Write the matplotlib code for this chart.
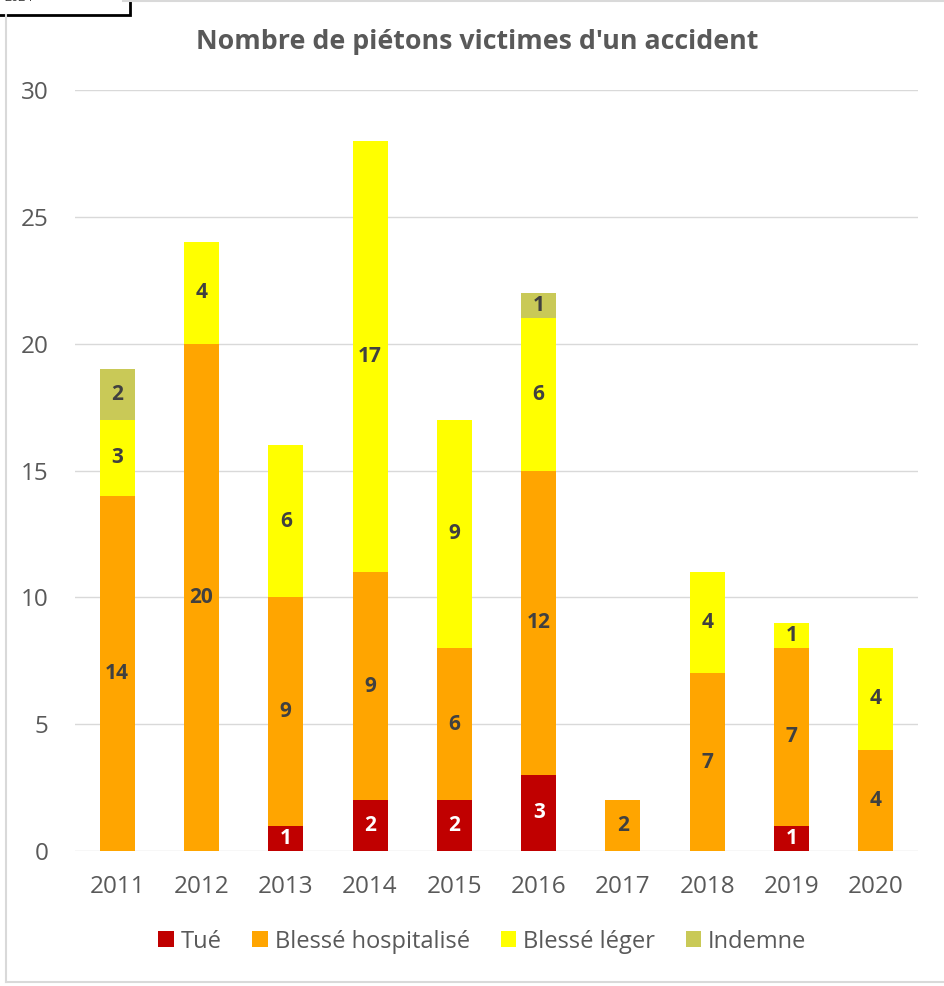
import numpy as np
import matplotlib
matplotlib.use('Agg')
from matplotlib import pyplot as plt
from matplotlib.patches import Rectangle
from matplotlib.lines import Line2D

plt.rcParams['font.family'] = ['Open Sans', 'DejaVu Sans']

years = ['2011', '2012', '2013', '2014', '2015', '2016', '2017', '2018', '2019', '2020']
tue = [0, 0, 1, 2, 2, 3, 0, 0, 1, 0]
blesse_hosp = [14, 20, 9, 9, 6, 12, 2, 7, 7, 4]
blesse_leger = [3, 4, 6, 17, 9, 6, 0, 4, 1, 4]
indemne = [2, 0, 0, 0, 0, 1, 0, 0, 0, 0]

series = [
    ('Tué', tue, '#C00000', 'white'),
    ('Blessé hospitalisé', blesse_hosp, '#FFA500', '#404040'),
    ('Blessé léger', blesse_leger, '#FFFF00', '#404040'),
    ('Indemne', indemne, '#C9C957', '#404040'),
]

fig = plt.figure(figsize=(9.44, 9.86), dpi=100)
ax = fig.add_axes([0.0794, 0.1369, 0.8931, 0.7718])

x = np.arange(len(years))
bottom = np.zeros(len(years))
handles = []
for name, vals, col, tcol in series:
    vals = np.array(vals, dtype=float)
    bars = ax.bar(x, vals, width=0.415, bottom=bottom, color=col, zorder=3)
    for xi, b, v in zip(x, bottom, vals):
        if v > 0:
            ax.text(xi, b + v / 2, '%d' % v, ha='center', va='center',
                    fontsize=15, fontweight='bold', color=tcol, zorder=4)
    bottom += vals
    handles.append(bars)

ax.set_xlim(-0.5, len(years) - 0.5)
ax.set_ylim(0, 30)
ax.set_yticks(np.arange(0, 31, 5))
ax.set_xticks(x)
ax.set_xticklabels(years)
ax.grid(axis='y', color='#D9D9D9', linewidth=1, zorder=0)
for s in ax.spines.values():
    s.set_visible(False)
ax.tick_params(axis='both', length=0, labelsize=17.5, colors='#595959')
ax.tick_params(axis='y', pad=19)
ax.tick_params(axis='x', pad=17)

fig.text(0.506, 0.957, "Nombre de piétons victimes d'un accident", ha='center', va='center',
         fontsize=19.3, fontweight='bold', color='#595959')

fig.legend(handles, [s[0] for s in series], loc='center', bbox_to_anchor=(0.511, 0.045),
           ncol=4, frameon=False, fontsize=17, handlelength=0.65, handleheight=0.65,
           handletextpad=0.3, columnspacing=1.3, labelcolor='#595959')

# outer chart frame
fig.add_artist(Line2D([0.0064, 0.0064], [0.004, 0.985], transform=fig.transFigure,
                      color='#D9D9D9', linewidth=1.5))
fig.add_artist(Line2D([0.0064, 1.0], [0.004, 0.004], transform=fig.transFigure,
                      color='#D9D9D9', linewidth=1.5))
fig.add_artist(Line2D([0.13, 1.0], [0.999, 0.999], transform=fig.transFigure,
                      color='#D9D9D9', linewidth=1.5))
# cropped caption box in the corner
fig.add_artist(Rectangle((-0.01, 0.985), 0.148, 0.03, transform=fig.transFigure,
                         facecolor='white', edgecolor='black', linewidth=2))
fig.text(0.005, 0.996, '2024', fontsize=9, color='#404040', va='bottom')

fig.savefig('out.png', dpi=100)
